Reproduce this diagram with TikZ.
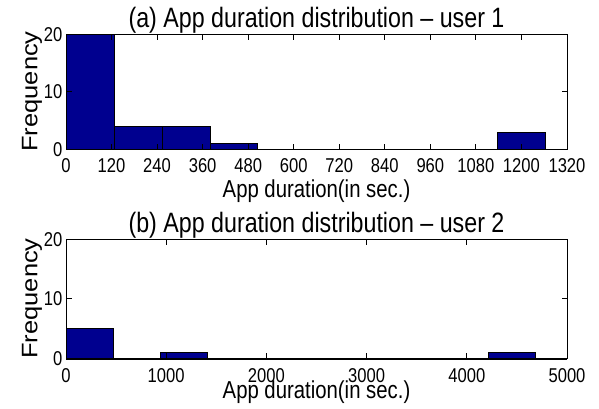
\documentclass[tikz,border=0pt]{standalone}
\usepackage{fontspec}
% narrow sans for horizontal text, plain one for the rotated axis label
\newfontfamily\plotfont[FakeStretch=0.83]{Liberation Sans}
\newfontfamily\plotfontup{Liberation Sans}
\definecolor{barblue}{RGB}{0,0,143}
\begin{document}
\begin{tikzpicture}[x=1pt,y=-1pt,
  axisline/.style={line width=1pt, line cap=rect},
  bar/.style={fill=barblue, draw=black, line width=0.7pt},
  ticklab/.style={font=\plotfont\fontsize{20}{20}\selectfont, inner sep=0pt},
  titlelab/.style={font=\plotfont\fontsize{28}{28}\selectfont, inner sep=0pt, anchor=base},
  axislab/.style={font=\plotfont\fontsize{24.5}{24.5}\selectfont, inner sep=0pt, anchor=base},
  freqlab/.style={rotate=90, inner sep=0pt, anchor=base}]
\useasboundingbox (0,0) rectangle (599,408);

% ---------- panel (a): user 1 ----------
\foreach \k/\h in {0/20,1/4,2/4,3/1,9/3}
  \draw[bar] ({66+\k*47.95},149.5) rectangle ({66+(\k+1)*47.95},{149.5-\h*5.775});
\draw[axisline] (66,34) rectangle (567,149.5);
\foreach \k in {0,...,11} {
  \draw[axisline] ({66+\k*45.545},149.5) -- ++(0,-5);
  \draw[axisline] ({66+\k*45.545},34) -- ++(0,5);
  \pgfmathtruncatemacro\v{\k*120}
  \node[ticklab, anchor=base] (xa\k) at ({66+\k*45.545},172.5) {\v};
}
\foreach \k/\y in {0/149.5,10/91.75,20/34} {
  \draw[axisline] (66,\y) -- ++(5,0);
  \draw[axisline] (567,\y) -- ++(-5,0);
  \node[ticklab, anchor=base east] (ya\k) at (62.5,\y+7) {\k};
}
\node[titlelab] (titlea) at (316.5,27.3) {(a) App duration distribution – user 1};
\node[axislab] (xlaba) at (316.5,197) {App duration(in sec.)};
\node[freqlab] (ylaba) at (37.3,91.5)
  {\scalebox{1}[0.88]{\plotfontup\fontsize{25.5}{25.5}\selectfont Frequency}};

% ---------- panel (b): user 2 ----------
\foreach \k/\h in {0/5,2/1,9/1}
  \draw[bar] ({66+\k*46.97},358.5) rectangle ({66+(\k+1)*46.97},{358.5-\h*5.96});
\draw[axisline] (66,239.3) rectangle (567,358.5);
\draw[line width=2pt] (66,358.5) -- (567,358.5);
\foreach \k in {0,...,5} {
  \draw[axisline] ({66+\k*100.2},358.5) -- ++(0,-5);
  \draw[axisline] ({66+\k*100.2},239.3) -- ++(0,5);
  \pgfmathtruncatemacro\v{\k*1000}
  \node[ticklab, anchor=base] (xb\k) at ({66+\k*100.2},382) {\v};
}
\foreach \k/\y in {0/358.5,10/298.9,20/239.3} {
  \draw[axisline] (66,\y) -- ++(5,0);
  \draw[axisline] (567,\y) -- ++(-5,0);
  \node[ticklab, anchor=base east] (yb\k) at (62.5,\y+7) {\k};
}
\node[titlelab] (titleb) at (316.5,232.3) {(b) App duration distribution – user 2};
\node[axislab] (xlabb) at (316.5,398) {App duration(in sec.)};
\node[freqlab] (ylabb) at (37.3,298.5)
  {\scalebox{1}[0.88]{\plotfontup\fontsize{25.5}{25.5}\selectfont Frequency}};
\end{tikzpicture}
\end{document}
